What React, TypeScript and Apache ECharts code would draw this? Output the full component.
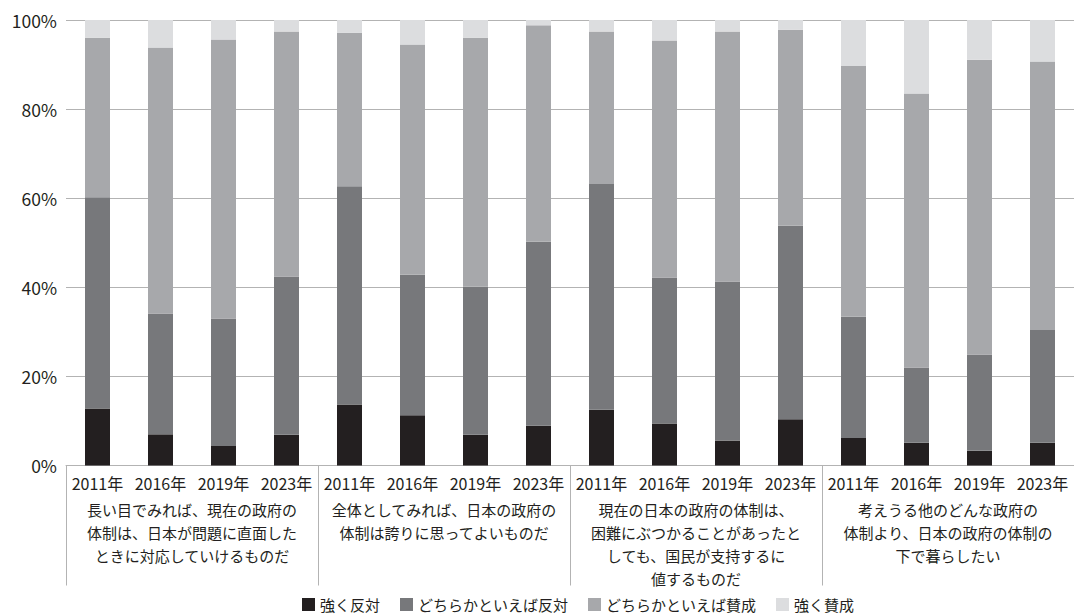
import React, { useEffect, useRef } from "react";
import * as echarts from "echarts";

const years = ["2011年", "2016年", "2019年", "2023年"];
const groupLabels = [
  "長い目でみれば、現在の政府の\n体制は、日本が問題に直面した\nときに対応していけるものだ",
  "全体としてみれば、日本の政府の\n体制は誇りに思ってよいものだ",
  "現在の日本の政府の体制は、\n困難にぶつかることがあったと\nしても、国民が支持するに\n値するものだ",
  "考えうる他のどんな政府の\n体制より、日本の政府の体制の\n下で暮らしたい",
];
const seriesNames = ["強く反対", "どちらかといえば反対", "どちらかといえば賛成", "強く賛成"];
const strongOppose = [12.8, 7.0, 4.4, 6.9, 13.7, 11.3, 6.9, 8.9, 12.5, 9.4, 5.6, 10.4, 6.2, 5.1, 3.3, 5.1];
const ratherOppose = [47.4, 27.1, 28.6, 35.5, 49.0, 31.5, 33.2, 41.3, 50.7, 32.8, 35.7, 43.4, 27.2, 16.9, 21.6, 25.3];
const ratherAgree = [35.8, 59.7, 62.6, 55.0, 34.4, 51.7, 55.9, 48.6, 34.2, 53.2, 56.1, 44.0, 56.3, 61.5, 66.2, 60.3];
const strongAgree = [4.0, 6.2, 4.4, 2.6, 2.9, 5.5, 4.0, 1.2, 2.6, 4.6, 2.6, 2.2, 10.3, 16.5, 8.9, 9.3];
const yTicks = [0, 20, 40, 60, 80, 100];

const colors = ["#231f20", "#77787b", "#a7a8ab", "#dcdddf"];
const FONT = "'Noto Sans CJK JP', 'Noto Sans', sans-serif";
const TEXT = "#231f20";

export default function App() {
  const ref = useRef<HTMLDivElement>(null);
  useEffect(() => {
    if (!ref.current) return;
    const chart = echarts.init(ref.current, undefined, { renderer: "svg" });
    const categories: string[] = [];
    groupLabels.forEach(() => years.forEach((y) => categories.push(y)));
    const values = [strongOppose, ratherOppose, ratherAgree, strongAgree];
    chart.setOption({
      animation: false,
      textStyle: { fontFamily: FONT, color: TEXT },
      grid: { left: 66, right: 0, top: 20, bottom: 149.5, containLabel: false },
      legend: {
        bottom: -2,
        left: 297,
        itemWidth: 13,
        itemHeight: 13,
        itemGap: 20,
        icon: "rect",
        textStyle: { fontFamily: FONT, fontSize: 15, color: TEXT },
        data: seriesNames,
      },
      xAxis: [
        {
          type: "category",
          data: categories,
          position: "bottom",
          axisLine: { show: true, lineStyle: { color: "#b3b3b3", width: 1 } },
          axisTick: { show: false },
          axisLabel: {
            interval: 0,
            fontSize: 16,
            color: TEXT,
            fontFamily: FONT,
            margin: 9,
          },
        },
        {
          type: "category",
          data: groupLabels,
          position: "bottom",
          axisLine: { show: false },
          axisTick: { show: true, length: 120, lineStyle: { color: "#b3b3b3", width: 1 } },
          axisLabel: {
            interval: 0,
            fontSize: 15,
            color: TEXT,
            fontFamily: FONT,
            margin: 32,
            lineHeight: 23,
            align: "center",
            verticalAlign: "top",
          },
        },
      ],
      yAxis: {
        type: "value",
        min: 0,
        max: 100,
        interval: 20,
        axisLine: { show: false },
        axisTick: { show: false },
        splitLine: { show: true, lineStyle: { color: "#b3b3b3", width: 1 } },
        axisLabel: {
          formatter: (v: number) => (yTicks.includes(v) ? v + "%" : ""),
          fontSize: 17.5,
          color: TEXT,
          fontFamily: FONT,
          margin: 9,
        },
      },
      series: seriesNames.map((name, i) => ({
        name,
        type: "bar",
        stack: "total",
        xAxisIndex: 0,
        barWidth: 25,
        itemStyle: { color: colors[i] },
        data: values[i],
      })),
    });
    return () => chart.dispose();
  }, []);
  return (
    <div
      ref={ref}
      style={{ position: "absolute", left: 0, top: 0, width: 1074, height: 615, background: "#fff" }}
    />
  );
}
